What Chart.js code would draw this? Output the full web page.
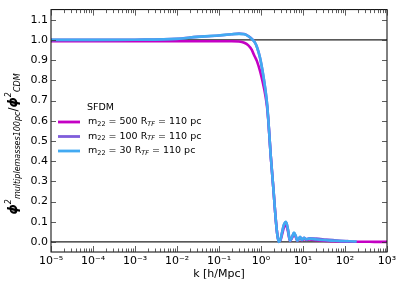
<!DOCTYPE html>
<html>
<head>
<meta charset="utf-8">
<script src="https://cdn.jsdelivr.net/npm/chart.js@4"></script>
<style>
  body { margin: 0; background: #fff; }
</style>
</head>
<body>
<canvas id="chart" width="407" height="291"></canvas>
<script>
// k grid [h/Mpc] shared by the three curves
const kValues = [1e-5, 1e-4, 1e-3, 1e-2, 0.03, 0.1, 0.2, 0.3, 0.4, 0.5, 0.6, 0.7, 0.8, 0.95, 1.1, 1.26, 1.4, 1.5, 1.7, 1.96,
  2.27, 2.45, 2.64, 2.9, 3.2, 3.5, 3.94, 4.4, 4.9, 5.5, 6.1, 6.7, 7.3, 7.9, 8.5, 9.5, 10.6, 12, 14, 21,
  35, 52, 80, 120, 190, 300, 500, 1000];

// phi^2 ratio, m22 = 500
const m500 = [0.993, 0.993, 0.993, 0.993, 0.993, 0.993, 0.993, 0.992, 0.986, 0.973, 0.952, 0.92, 0.895, 0.845, 0.79, 0.73, 0.665, 0.595, 0.43, 0.27,
  0.10, 0.035, 0.005, 0.008, 0.04, 0.07, 0.085, 0.05, 0.005, 0.02, 0.038, 0.025, 0.005, 0.012, 0.02, 0.008, 0.015, 0.01, 0.012, 0.008,
  0.005, 0.003, 0.002, 0.001, 0.001, 0.001, 0.0, 0.0];

// phi^2 ratio, m22 = 100
const m100 = [1.000, 1.000, 1.001, 1.006, 1.015, 1.022, 1.028, 1.031, 1.029, 1.019, 1.006, 0.99, 0.965, 0.91, 0.84, 0.76, 0.68, 0.60, 0.43, 0.27,
  0.10, 0.035, 0.0, 0.01, 0.05, 0.083, 0.098, 0.06, 0.006, 0.025, 0.044, 0.03, 0.007, 0.015, 0.024, 0.011, 0.02, 0.014, 0.018, 0.016,
  0.012, 0.009, 0.006, 0.004, null, null, null, null];

// phi^2 ratio, m22 = 30
const m30 = [1.000, 1.000, 1.001, 1.005, 1.015, 1.022, 1.028, 1.030, 1.028, 1.018, 1.005, 0.99, 0.965, 0.91, 0.84, 0.76, 0.68, 0.60, 0.43, 0.27,
  0.10, 0.035, 0.0, 0.01, 0.05, 0.085, 0.10, 0.06, 0.005, 0.025, 0.046, 0.03, 0.006, 0.015, 0.025, 0.01, 0.02, 0.012, 0.016, 0.012,
  0.008, 0.006, 0.004, 0.003, 0.002, null, null, null];

const seriesMasses = ['500', '100', '30'];
const seriesColors = ['#c400c4', '#7f5ddb', '#42aaf2'];
const yTicks = [0.0, 0.1, 0.2, 0.3, 0.4, 0.5, 0.6, 0.7, 0.8, 0.9, 1.0, 1.1];
const xTicks = [1e-5, 1e-4, 1e-3, 1e-2, 1e-1, 1e0, 1e1, 1e2, 1e3];
const hLines = [0, 1];

const FONT = "'DejaVu Sans', sans-serif";
const sup = { '-': '⁻', '0': '⁰', '1': '¹', '2': '²', '3': '³', '4': '⁴', '5': '⁵' };

function points(vals) {
  return kValues.map((k, i) => ({ x: k, y: vals[i] }));
}

// draw a run of text pieces with sub/superscripts, centred on x
function drawRich(ctx, parts, x, y) {
  let total = 0;
  parts.forEach(p => {
    ctx.font = (p.style || '') + ' ' + p.size + 'px ' + FONT;
    p.w = ctx.measureText(p.t).width;
    total += p.w;
  });
  let cx = x - total / 2;
  parts.forEach(p => {
    ctx.font = (p.style || '') + ' ' + p.size + 'px ' + FONT;
    ctx.fillText(p.t, cx, y + (p.dy || 0));
    cx += p.w;
  });
}

function drawLeft(ctx, parts, x, y) {
  let cx = x;
  parts.forEach(p => {
    ctx.font = (p.style || '') + ' ' + p.size + 'px ' + FONT;
    ctx.fillText(p.t, cx, y + (p.dy || 0));
    cx += ctx.measureText(p.t).width;
  });
}

const decor = {
  id: 'decor',
  beforeDatasetsDraw(chart) {
    const { ctx, chartArea: a, scales } = chart;
    ctx.save();
    ctx.strokeStyle = '#222';
    ctx.lineWidth = 1.3;
    hLines.forEach(v => {
      const y = scales.y.getPixelForValue(v);
      ctx.beginPath();
      ctx.moveTo(a.left, y);
      ctx.lineTo(a.right, y);
      ctx.stroke();
    });
    ctx.restore();
  },
  afterDraw(chart) {
    const { ctx, chartArea: a, scales } = chart;
    const x = scales.x, y = scales.y;
    ctx.save();
    ctx.strokeStyle = '#000';
    ctx.lineWidth = 1;
    ctx.strokeRect(a.left, a.top, a.right - a.left, a.bottom - a.top);

    // inward ticks
    ctx.strokeStyle = '#333';
    ctx.lineWidth = 0.8;
    ctx.beginPath();
    yTicks.forEach(v => {
      const py = Math.round(y.getPixelForValue(v)) + 0.5;
      ctx.moveTo(a.left, py); ctx.lineTo(a.left + 5, py);
      ctx.moveTo(a.right, py); ctx.lineTo(a.right - 5, py);
    });
    for (let e = -5; e <= 3; e++) {
      const px = Math.round(x.getPixelForValue(Math.pow(10, e))) + 0.5;
      ctx.moveTo(px, a.bottom); ctx.lineTo(px, a.bottom - 6);
      ctx.moveTo(px, a.top); ctx.lineTo(px, a.top + 6);
      if (e < 3) {
        for (let m = 2; m <= 9; m++) {
          const pm = Math.round(x.getPixelForValue(m * Math.pow(10, e))) + 0.5;
          ctx.moveTo(pm, a.bottom); ctx.lineTo(pm, a.bottom - 3.5);
          ctx.moveTo(pm, a.top); ctx.lineTo(pm, a.top + 3.5);
        }
      }
    }
    ctx.stroke();

    // y axis title
    ctx.fillStyle = '#000';
    ctx.textBaseline = 'alphabetic';
    ctx.save();
    ctx.translate(17, 144);
    ctx.rotate(-Math.PI / 2);
    drawRich(ctx, [
      { t: 'ϕ', size: 13, style: 'italic bold' },
      { t: '2', size: 8, style: 'italic', dy: -6 },
      { t: 'multiplemasses100pc', size: 8, style: 'italic', dy: 3 },
      { t: '/', size: 12 },
      { t: 'ϕ', size: 13, style: 'italic bold' },
      { t: '2', size: 8, style: 'italic', dy: -6 },
      { t: 'CDM', size: 8, style: 'italic', dy: 3 }
    ], 0, 0);
    ctx.restore();

    // legend
    ctx.textBaseline = 'middle';
    ctx.font = '9.5px ' + FONT;
    ctx.textAlign = 'left';
    ctx.fillText('SFDM', 87, 108);
    seriesMasses.forEach((m, i) => {
      const ly = 122 + i * 14.5;
      ctx.strokeStyle = seriesColors[i];
      ctx.lineWidth = 2.8;
      ctx.beginPath();
      ctx.moveTo(58, ly); ctx.lineTo(80, ly);
      ctx.stroke();
      drawLeft(ctx, [
        { t: 'm', size: 9.5 },
        { t: '22', size: 6.5, dy: 2 },
        { t: ' = ' + m + ' R', size: 9.5 },
        { t: 'TF', size: 6.5, style: 'italic', dy: 2 },
        { t: ' = 110 pc', size: 9.5 }
      ], 88, ly);
    });
    ctx.restore();
  }
};

new Chart(document.getElementById('chart'), {
  type: 'line',
  data: {
    datasets: seriesMasses.map((m, i) => ({
      label: 'm22 = ' + m + ' RTF = 110 pc',
      data: points([m500, m100, m30][i]),
      borderColor: seriesColors[i],
      borderWidth: 2.6,
      pointRadius: 0,
      order: 2 - i,
      cubicInterpolationMode: 'monotone',
      fill: false
    }))
  },
  options: {
    responsive: false,
    animation: false,
    layout: { padding: { left: 0, top: 8, right: 20, bottom: 0 } },
    plugins: { legend: { display: false }, tooltip: { enabled: false } },
    scales: {
      x: {
        type: 'logarithmic',
        min: 1e-5,
        max: 1e3,
        afterFit: s => { s.height = 39; },
        afterBuildTicks: s => { s.ticks = xTicks.map(v => ({ value: v })); },
        grid: { display: false, drawTicks: false },
        border: { display: false },
        ticks: {
          padding: 3,
          color: '#000',
          maxRotation: 0,
          autoSkip: false,
          font: { family: FONT, size: 11 },
          callback: v => '10' + String(Math.round(Math.log10(v))).split('').map(c => sup[c]).join('')
        },
        title: {
          display: true,
          text: 'k [h/Mpc]',
          color: '#000',
          font: { family: FONT, size: 11 },
          padding: { top: 0, bottom: 10 }
        }
      },
      y: {
        min: -0.05,
        max: 1.15,
        afterFit: s => { s.width = 51; },
        afterBuildTicks: s => { s.ticks = yTicks.map(v => ({ value: v })); },
        grid: { display: false, drawTicks: false },
        border: { display: false },
        ticks: {
          padding: 3,
          color: '#000',
          font: { family: FONT, size: 11 },
          callback: v => v.toFixed(1)
        }
      }
    }
  },
  plugins: [decor]
});
</script>
</body>
</html>
